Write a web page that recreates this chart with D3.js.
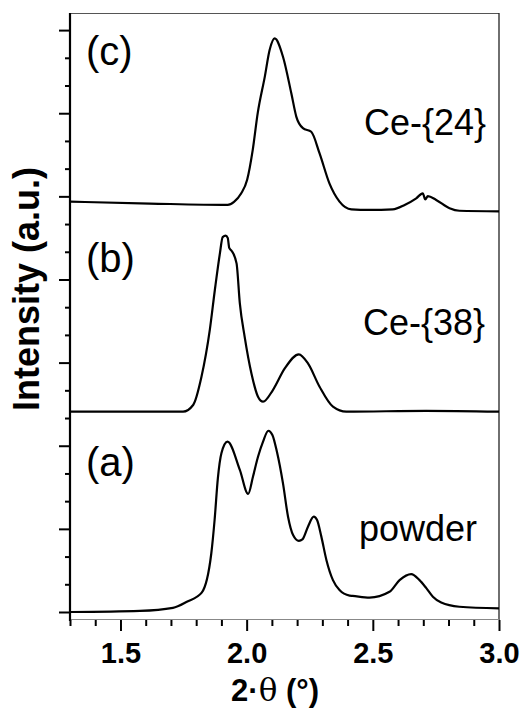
<!DOCTYPE html>
<html><head><meta charset="utf-8">
<script src="https://cdn.jsdelivr.net/npm/d3@7"></script>
<style>
html,body{margin:0;padding:0;background:#fff;}
svg{display:block;}
text{font-family:"Liberation Sans",Arial,Helvetica,sans-serif;fill:#000;}
</style></head>
<body>
<svg id="chart" width="521" height="708"></svg>
<script>
// ---- data ----
const powderX = [1.300,1.577,1.708,1.763,1.822,1.860,1.873,1.886,1.900,1.924,1.973,2.006,2.025,2.045,2.065,2.086,2.102,2.120,2.144,2.164,2.184,2.207,2.221,2.243,2.266,2.279,2.296,2.316,2.342,2.368,2.408,2.420,2.487,2.566,2.606,2.652,2.685,2.712,2.738,2.771,2.843,3.000];
const powderY = [0.00,0.04,0.15,0.37,0.70,2.12,3.32,4.83,5.73,6.15,5.13,4.26,4.88,5.60,6.15,6.54,6.39,5.78,4.64,3.44,2.78,2.57,2.62,3.08,3.44,3.32,2.72,1.88,1.15,0.79,0.59,0.58,0.52,0.73,1.15,1.37,1.15,0.86,0.55,0.34,0.19,0.13];

const ce38X = [1.300,1.748,1.788,1.821,1.854,1.874,1.894,1.905,1.917,1.925,1.931,1.941,1.960,1.973,1.992,2.019,2.045,2.065,2.104,2.151,2.207,2.243,2.289,2.342,2.395,2.711,3.000];
const ce38Y = [7.23,7.23,7.47,8.49,10.18,11.62,12.94,13.53,13.58,13.50,13.14,13.03,12.58,11.14,9.94,8.61,7.77,7.59,8.01,8.79,9.30,8.97,8.13,7.41,7.23,7.26,7.23];

const ce24X = [1.300,1.617,1.925,1.950,1.978,2.002,2.024,2.044,2.072,2.091,2.111,2.144,2.177,2.197,2.223,2.256,2.289,2.328,2.368,2.415,2.487,2.579,2.626,2.672,2.698,2.708,2.718,2.751,2.804,2.843,3.000];
const ce24Y = [14.81,14.74,14.69,14.80,15.10,15.60,16.67,18.01,19.32,20.28,20.70,20.04,18.72,17.87,17.46,17.33,16.55,15.47,14.81,14.53,14.51,14.53,14.69,14.93,15.11,14.89,15.01,14.87,14.57,14.48,14.46];

const xTickValues = [1.3,1.4,1.5,1.6,1.7,1.8,1.9,2.0,2.1,2.2,2.3,2.4,2.5,2.6,2.7,2.8,2.9,3.0];
const xTickLabels = ["1.5","2.0","2.5","3.0"];
const yTickValues = [0,1,2,3,4,5,6,7,8,9,10,11,12,13,14,15,16,17,18,19,20,21];

const panelLabels = ["(a)","(b)","(c)"];
const sampleLabels = ["powder","Ce-{38}","Ce-{24}"];

// ---- layout ----
const L = 70, R = 499, T = 13, B = 620;
const svg = d3.select("#chart");
const x = d3.scaleLinear().domain([1.3, 3.0]).range([L, R]);
const y = d3.scaleLinear().domain([-0.289, 21.617]).range([B, T]);

// frame: top, right (thin), bottom (thin gray)
svg.append("line").attr("x1",L).attr("x2",R).attr("y1",T+0.5).attr("y2",T+0.5).attr("stroke","#555").attr("stroke-width",1.2);
svg.append("line").attr("x1",R).attr("x2",R).attr("y1",T).attr("y2",B).attr("stroke","#222").attr("stroke-width",1.3);
svg.append("line").attr("x1",L).attr("x2",R).attr("y1",B-0.5).attr("y2",B-0.5).attr("stroke","#888").attr("stroke-width",1.2);

// bottom axis
const isMajorX = v => Math.abs(v*2 - Math.round(v*2)) < 1e-6;
const gx = svg.append("g").attr("transform",`translate(0,${B})`)
  .call(d3.axisBottom(x).tickValues(xTickValues).tickSize(10)
    .tickFormat(v => { const s = d3.format(".1f")(v); return xTickLabels.includes(s) ? s : ""; }));
gx.select(".domain").remove();
gx.selectAll(".tick line").attr("stroke","#000").attr("stroke-width",2)
  .attr("y2", d => isMajorX(d) ? 11 : 6);
gx.selectAll(".tick text").attr("y",43).attr("dy",0)
  .style("font-size","29px").style("font-weight","bold").style("font-family","'Liberation Sans',Arial,sans-serif");

// left axis
const gy = svg.append("g").attr("transform",`translate(${L},0)`)
  .call(d3.axisLeft(y).tickValues(yTickValues).tickSize(10).tickFormat(""));
gy.select(".domain").remove();
gy.selectAll(".tick line").attr("stroke","#000").attr("stroke-width",2)
  .attr("x2", d => d % 3 === 0 ? -11 : -5);
svg.append("line").attr("x1",L).attr("x2",L).attr("y1",T).attr("y2",B+1).attr("stroke","#000").attr("stroke-width",2.2);

// curves
const line = d3.line().x(d => x(d[0])).y(d => y(d[1])).curve(d3.curveMonotoneX);
const series = [
  d3.zip(powderX, powderY),
  d3.zip(ce38X, ce38Y),
  d3.zip(ce24X, ce24Y)
];
svg.append("g").selectAll("path").data(series).join("path")
  .attr("d", line).attr("fill","none").attr("stroke","#000")
  .attr("stroke-width",2.2).attr("stroke-linejoin","round");

// panel labels
const panelPos = [[86,476],[86,272],[86,65]];
svg.append("g").selectAll("text").data(panelLabels).join("text")
  .attr("x",(d,i)=>panelPos[i][0]).attr("y",(d,i)=>panelPos[i][1])
  .style("font-size","40px").text(d=>d);

const samplePos = [[477,541],[485,335],[486,135]];
svg.append("g").selectAll("text").data(sampleLabels).join("text")
  .attr("x",(d,i)=>samplePos[i][0]).attr("y",(d,i)=>samplePos[i][1])
  .attr("text-anchor","end").style("font-size","36px").text(d=>d);

// axis titles
svg.append("text").attr("transform","translate(39,289) rotate(-90)")
  .attr("text-anchor","middle").style("font-size","36px").style("font-weight","bold")
  .text("Intensity (a.u.)");

const xt = svg.append("text").attr("x",275).attr("y",701).attr("text-anchor","middle")
  .style("font-size","31px").style("font-weight","bold");
xt.append("tspan").text("2·");
xt.append("tspan").style("font-weight","normal").style("font-family","'DejaVu Serif','Liberation Serif',serif").text("θ");
xt.append("tspan").text(" (°)");
</script>
</body></html>
